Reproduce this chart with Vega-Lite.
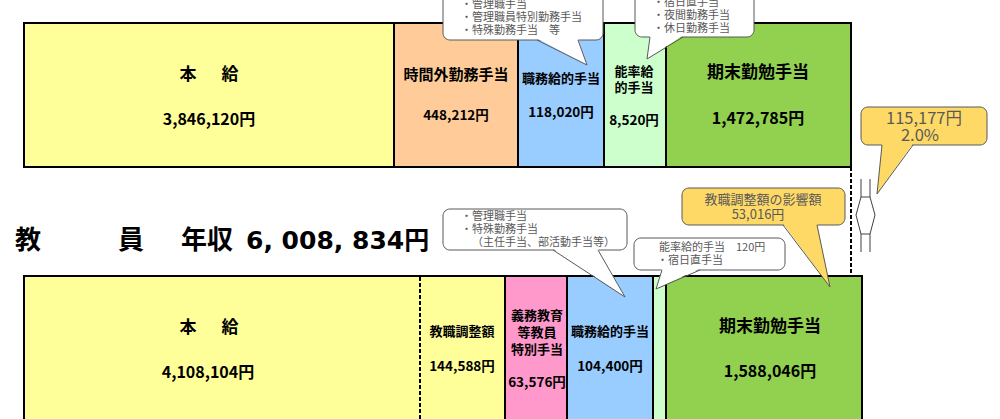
{
  "$schema": "https://vega.github.io/schema/vega-lite/v6.json",
  "width": 1000,
  "height": 419,
  "padding": 0,
  "autosize": {"type": "none"},
  "background": "white",
  "config": {"view": {"stroke": null}},
  "datasets": {
    "boxes": [
      {"row": "行政職", "item": "本給", "x0": 24, "x1": 394, "y0": 23, "y1": 167},
      {"row": "行政職", "item": "時間外勤務手当", "x0": 394, "x1": 518, "y0": 23, "y1": 167},
      {"row": "行政職", "item": "職務給的手当", "x0": 518, "x1": 604, "y0": 23, "y1": 167},
      {"row": "行政職", "item": "能率給的手当", "x0": 604, "x1": 666, "y0": 23, "y1": 167},
      {"row": "行政職", "item": "期末勤勉手当", "x0": 666, "x1": 851, "y0": 23, "y1": 167},
      {"row": "教員", "item": "本給", "x0": 24, "x1": 505, "y0": 276, "y1": 426},
      {"row": "教員", "item": "義務教育等教員特別手当", "x0": 505, "x1": 567, "y0": 276, "y1": 426},
      {"row": "教員", "item": "職務給的手当", "x0": 567, "x1": 653, "y0": 276, "y1": 426},
      {"row": "教員", "item": "能率給的手当", "x0": 653, "x1": 666, "y0": 276, "y1": 426},
      {"row": "教員", "item": "期末勤勉手当", "x0": 666, "x1": 862, "y0": 276, "y1": 426}
    ],
    "labels": [
      {"text": "本", "x": 188, "y": 75, "kind": "L"},
      {"text": "給", "x": 230, "y": 75, "kind": "L"},
      {"text": "3,846,120円", "x": 209, "y": 120, "kind": "AL"},
      {"text": "時間外勤務手当", "x": 456, "y": 75, "kind": "M"},
      {"text": "448,212円", "x": 456, "y": 116, "kind": "AS"},
      {"text": "職務給的手当", "x": 561, "y": 79, "kind": "S"},
      {"text": "118,020円", "x": 561, "y": 113, "kind": "AS"},
      {"text": "能率給", "x": 634, "y": 72, "kind": "S"},
      {"text": "的手当", "x": 634, "y": 88, "kind": "S"},
      {"text": "8,520円", "x": 634, "y": 121, "kind": "AS"},
      {"text": "期末勤勉手当", "x": 758, "y": 73, "kind": "L"},
      {"text": "1,472,785円", "x": 758, "y": 119, "kind": "AL"},
      {"text": "本", "x": 188, "y": 328, "kind": "L"},
      {"text": "給", "x": 230, "y": 328, "kind": "L"},
      {"text": "4,108,104円", "x": 208, "y": 373, "kind": "AL"},
      {"text": "教職調整額", "x": 462, "y": 332, "kind": "S"},
      {"text": "144,588円", "x": 462, "y": 367, "kind": "AS"},
      {"text": "義務教育", "x": 537, "y": 316, "kind": "S"},
      {"text": "等教員", "x": 537, "y": 333, "kind": "S"},
      {"text": "特別手当", "x": 537, "y": 350, "kind": "S"},
      {"text": "63,576円", "x": 537, "y": 383, "kind": "AS"},
      {"text": "職務給的手当", "x": 610, "y": 332, "kind": "S"},
      {"text": "104,400円", "x": 610, "y": 367, "kind": "AS"},
      {"text": "期末勤勉手当", "x": 770, "y": 327, "kind": "L"},
      {"text": "1,588,046円", "x": 770, "y": 372, "kind": "AL"}
    ],
    "callouts": [
      {"id": "c1", "kind": "note", "x0": 443, "x1": 603, "y0": -10, "y1": 40},
      {"id": "c2", "kind": "note", "x0": 635, "x1": 754, "y0": -10, "y1": 37},
      {"id": "c3", "kind": "note", "x0": 443, "x1": 627, "y0": 209, "y1": 250},
      {"id": "c4", "kind": "note", "x0": 634, "x1": 785, "y0": 238, "y1": 270},
      {"id": "c5", "kind": "gap", "x0": 682, "x1": 845, "y0": 188, "y1": 225},
      {"id": "c6", "kind": "gap", "x0": 861, "x1": 987, "y0": 107, "y1": 145}
    ],
    "tailfill": [
      {"id": "c1", "kind": "note", "y": 38.5, "xa": 537, "xb": 578},
      {"id": "c1", "kind": "note", "y": 65, "xa": 587, "xb": 587},
      {"id": "c2", "kind": "note", "y": 35.5, "xa": 650, "xb": 683},
      {"id": "c2", "kind": "note", "y": 59, "xa": 647, "xb": 647},
      {"id": "c3", "kind": "note", "y": 248.5, "xa": 553, "xb": 598},
      {"id": "c3", "kind": "note", "y": 297, "xa": 625, "xb": 625},
      {"id": "c4", "kind": "note", "y": 268.5, "xa": 662, "xb": 700},
      {"id": "c4", "kind": "note", "y": 289, "xa": 656, "xb": 656},
      {"id": "c5", "kind": "gap", "y": 223.5, "xa": 783, "xb": 817},
      {"id": "c5", "kind": "gap", "y": 287, "xa": 830, "xb": 830},
      {"id": "c6", "kind": "gap", "y": 143.5, "xa": 882, "xb": 913},
      {"id": "c6", "kind": "gap", "y": 194, "xa": 877, "xb": 877}
    ],
    "tailline": [
      {"id": "c1", "seq": 0, "x": 537, "y": 40}, {"id": "c1", "seq": 1, "x": 587, "y": 65}, {"id": "c1", "seq": 2, "x": 578, "y": 40},
      {"id": "c2", "seq": 0, "x": 650, "y": 37}, {"id": "c2", "seq": 1, "x": 647, "y": 59}, {"id": "c2", "seq": 2, "x": 683, "y": 37},
      {"id": "c3", "seq": 0, "x": 553, "y": 250}, {"id": "c3", "seq": 1, "x": 625, "y": 297}, {"id": "c3", "seq": 2, "x": 598, "y": 250},
      {"id": "c4", "seq": 0, "x": 662, "y": 270}, {"id": "c4", "seq": 1, "x": 656, "y": 289}, {"id": "c4", "seq": 2, "x": 700, "y": 270},
      {"id": "c5", "seq": 0, "x": 783, "y": 225}, {"id": "c5", "seq": 1, "x": 830, "y": 287}, {"id": "c5", "seq": 2, "x": 817, "y": 225},
      {"id": "c6", "seq": 0, "x": 882, "y": 145}, {"id": "c6", "seq": 1, "x": 877, "y": 194}, {"id": "c6", "seq": 2, "x": 913, "y": 145}
    ],
    "arrow": [
      {"id": "hex", "seq": 0, "x": 861, "y": 197}, {"id": "hex", "seq": 1, "x": 870, "y": 197}, {"id": "hex", "seq": 2, "x": 875, "y": 215},
      {"id": "hex", "seq": 3, "x": 870, "y": 234}, {"id": "hex", "seq": 4, "x": 861, "y": 234}, {"id": "hex", "seq": 5, "x": 856, "y": 215},
      {"id": "hex", "seq": 6, "x": 861, "y": 197},
      {"id": "tl", "seq": 0, "x": 861, "y": 179}, {"id": "tl", "seq": 1, "x": 861, "y": 197},
      {"id": "tr", "seq": 0, "x": 870, "y": 179}, {"id": "tr", "seq": 1, "x": 870, "y": 197},
      {"id": "bl", "seq": 0, "x": 861, "y": 234}, {"id": "bl", "seq": 1, "x": 861, "y": 252},
      {"id": "br", "seq": 0, "x": 870, "y": 234}, {"id": "br", "seq": 1, "x": 870, "y": 252}
    ],
    "dividers": [
      {"id": "gap", "x": 851, "y0": 167, "y1": 276},
      {"id": "kyoshoku", "x": 420, "y0": 277, "y1": 426}
    ],
    "notes": [
      {"text": "・管理職手当", "x": 461, "y": 5},
      {"text": "・管理職員特別勤務手当", "x": 461, "y": 18},
      {"text": "・特殊勤務手当　等", "x": 461, "y": 31},
      {"text": "・宿日直手当", "x": 653, "y": 3},
      {"text": "・夜間勤務手当", "x": 653, "y": 16},
      {"text": "・休日勤務手当", "x": 653, "y": 29},
      {"text": "・管理職手当", "x": 461, "y": 217},
      {"text": "・特殊勤務手当", "x": 461, "y": 230},
      {"text": "（主任手当、部活動手当等）", "x": 472, "y": 243},
      {"text": "能率給的手当　120円", "x": 659, "y": 248},
      {"text": "・宿日直手当", "x": 657, "y": 261}
    ],
    "gaptext": [
      {"text": "教職調整額の影響額", "x": 763, "y": 200, "kind": "a"},
      {"text": "53,016円", "x": 758, "y": 215, "kind": "a"},
      {"text": "115,177円", "x": 924, "y": 119, "kind": "b"},
      {"text": "2.0%", "x": 920, "y": 136, "kind": "b"}
    ],
    "title": [
      {"text": "教", "x": 15, "y": 241, "part": "jp"},
      {"text": "員", "x": 118, "y": 241, "part": "jp"},
      {"text": "年収", "x": 181, "y": 241, "part": "jp"},
      {"text": "6, 008, 834円", "x": 246, "y": 241, "part": "num"}
    ]
  },
  "layer": [
    {
      "data": {"name": "boxes"},
      "mark": {"type": "rect", "stroke": "#000000", "strokeWidth": 2, "clip": true},
      "encoding": {
        "x": {"field": "x0", "type": "quantitative", "scale": {"domain": [0, 1000], "nice": false, "zero": false}, "axis": null},
        "x2": {"field": "x1"},
        "y": {"field": "y0", "type": "quantitative", "scale": {"domain": [0, 419], "nice": false, "zero": false, "reverse": true}, "axis": null},
        "y2": {"field": "y1"},
        "fill": {"field": "item", "type": "nominal", "legend": null,
          "scale": {"domain": ["本給", "時間外勤務手当", "職務給的手当", "能率給的手当", "期末勤勉手当", "義務教育等教員特別手当"],
                    "range": ["#FFFF99", "#FFCC99", "#99CCFF", "#CCFFCC", "#92D050", "#FF99CC"]}}
      }
    },
    {
      "data": {"name": "dividers"},
      "mark": {"type": "rule", "stroke": "#000000", "strokeWidth": 2, "strokeDash": [4, 2], "clip": true},
      "encoding": {
        "x": {"field": "x", "type": "quantitative", "scale": {"domain": [0, 1000], "nice": false, "zero": false}, "axis": null},
        "y": {"field": "y0", "type": "quantitative", "scale": {"domain": [0, 419], "nice": false, "zero": false, "reverse": true}, "axis": null},
        "y2": {"field": "y1"}
      }
    },
    {
      "data": {"name": "labels"},
      "transform": [{"filter": "datum.kind === 'L'"}],
      "mark": {"type": "text", "font": "Noto Sans CJK JP", "fontWeight": "bold", "fontSize": 17, "fill": "#000000", "align": "center", "baseline": "middle"},
      "encoding": {
        "x": {"field": "x", "type": "quantitative", "scale": {"domain": [0, 1000], "nice": false, "zero": false}, "axis": null},
        "y": {"field": "y", "type": "quantitative", "scale": {"domain": [0, 419], "nice": false, "zero": false, "reverse": true}, "axis": null},
        "text": {"field": "text"}
      }
    },
    {
      "data": {"name": "labels"},
      "transform": [{"filter": "datum.kind === 'M'"}],
      "mark": {"type": "text", "font": "Noto Sans CJK JP", "fontWeight": "bold", "fontSize": 15, "fill": "#000000", "align": "center", "baseline": "middle"},
      "encoding": {
        "x": {"field": "x", "type": "quantitative", "scale": {"domain": [0, 1000], "nice": false, "zero": false}, "axis": null},
        "y": {"field": "y", "type": "quantitative", "scale": {"domain": [0, 419], "nice": false, "zero": false, "reverse": true}, "axis": null},
        "text": {"field": "text"}
      }
    },
    {
      "data": {"name": "labels"},
      "transform": [{"filter": "datum.kind === 'S'"}],
      "mark": {"type": "text", "font": "Noto Sans CJK JP", "fontWeight": "bold", "fontSize": 13, "fill": "#000000", "align": "center", "baseline": "middle"},
      "encoding": {
        "x": {"field": "x", "type": "quantitative", "scale": {"domain": [0, 1000], "nice": false, "zero": false}, "axis": null},
        "y": {"field": "y", "type": "quantitative", "scale": {"domain": [0, 419], "nice": false, "zero": false, "reverse": true}, "axis": null},
        "text": {"field": "text"}
      }
    },
    {
      "data": {"name": "labels"},
      "transform": [{"filter": "datum.kind === 'AL'"}],
      "mark": {"type": "text", "font": "Noto Sans CJK JP", "fontWeight": "bold", "fontSize": 16, "fill": "#000000", "align": "center", "baseline": "middle"},
      "encoding": {
        "x": {"field": "x", "type": "quantitative", "scale": {"domain": [0, 1000], "nice": false, "zero": false}, "axis": null},
        "y": {"field": "y", "type": "quantitative", "scale": {"domain": [0, 419], "nice": false, "zero": false, "reverse": true}, "axis": null},
        "text": {"field": "text"}
      }
    },
    {
      "data": {"name": "labels"},
      "transform": [{"filter": "datum.kind === 'AS'"}],
      "mark": {"type": "text", "font": "Noto Sans CJK JP", "fontWeight": "bold", "fontSize": 13.5, "fill": "#000000", "align": "center", "baseline": "middle"},
      "encoding": {
        "x": {"field": "x", "type": "quantitative", "scale": {"domain": [0, 1000], "nice": false, "zero": false}, "axis": null},
        "y": {"field": "y", "type": "quantitative", "scale": {"domain": [0, 419], "nice": false, "zero": false, "reverse": true}, "axis": null},
        "text": {"field": "text"}
      }
    },
    {
      "data": {"name": "callouts"},
      "mark": {"type": "rect", "stroke": "#595959", "strokeWidth": 1, "cornerRadius": 7, "clip": true},
      "encoding": {
        "x": {"field": "x0", "type": "quantitative", "scale": {"domain": [0, 1000], "nice": false, "zero": false}, "axis": null},
        "x2": {"field": "x1"},
        "y": {"field": "y0", "type": "quantitative", "scale": {"domain": [0, 419], "nice": false, "zero": false, "reverse": true}, "axis": null},
        "y2": {"field": "y1"},
        "fill": {"field": "kind", "type": "nominal", "legend": null,
          "scale": {"domain": ["note", "gap"], "range": ["#FFFFFF", "#FFD966"]}}
      }
    },
    {
      "data": {"name": "tailfill"},
      "mark": {"type": "area", "orient": "horizontal", "opacity": 1, "clip": true},
      "encoding": {
        "y": {"field": "y", "type": "quantitative", "scale": {"domain": [0, 419], "nice": false, "zero": false, "reverse": true}, "axis": null},
        "x": {"field": "xa", "type": "quantitative", "scale": {"domain": [0, 1000], "nice": false, "zero": false}, "axis": null},
        "x2": {"field": "xb"},
        "detail": {"field": "id"},
        "fill": {"field": "kind", "type": "nominal", "legend": null,
          "scale": {"domain": ["note", "gap"], "range": ["#FFFFFF", "#FFD966"]}}
      }
    },
    {
      "data": {"name": "tailline"},
      "mark": {"type": "line", "stroke": "#595959", "strokeWidth": 1, "clip": true},
      "encoding": {
        "x": {"field": "x", "type": "quantitative", "scale": {"domain": [0, 1000], "nice": false, "zero": false}, "axis": null},
        "y": {"field": "y", "type": "quantitative", "scale": {"domain": [0, 419], "nice": false, "zero": false, "reverse": true}, "axis": null},
        "detail": {"field": "id"},
        "order": {"field": "seq", "type": "quantitative"}
      }
    },
    {
      "data": {"name": "arrow"},
      "mark": {"type": "line", "stroke": "#404040", "strokeWidth": 1, "clip": true},
      "encoding": {
        "x": {"field": "x", "type": "quantitative", "scale": {"domain": [0, 1000], "nice": false, "zero": false}, "axis": null},
        "y": {"field": "y", "type": "quantitative", "scale": {"domain": [0, 419], "nice": false, "zero": false, "reverse": true}, "axis": null},
        "detail": {"field": "id"},
        "order": {"field": "seq", "type": "quantitative"}
      }
    },
    {
      "data": {"name": "notes"},
      "mark": {"type": "text", "font": "Noto Sans CJK JP", "fontSize": 11, "fill": "#595959", "align": "left", "baseline": "middle", "clip": true},
      "encoding": {
        "x": {"field": "x", "type": "quantitative", "scale": {"domain": [0, 1000], "nice": false, "zero": false}, "axis": null},
        "y": {"field": "y", "type": "quantitative", "scale": {"domain": [0, 419], "nice": false, "zero": false, "reverse": true}, "axis": null},
        "text": {"field": "text"}
      }
    },
    {
      "data": {"name": "gaptext"},
      "transform": [{"filter": "datum.kind === 'a'"}],
      "mark": {"type": "text", "font": "Noto Sans CJK JP", "fontSize": 13, "fill": "#595959", "align": "center", "baseline": "middle"},
      "encoding": {
        "x": {"field": "x", "type": "quantitative", "scale": {"domain": [0, 1000], "nice": false, "zero": false}, "axis": null},
        "y": {"field": "y", "type": "quantitative", "scale": {"domain": [0, 419], "nice": false, "zero": false, "reverse": true}, "axis": null},
        "text": {"field": "text"}
      }
    },
    {
      "data": {"name": "gaptext"},
      "transform": [{"filter": "datum.kind === 'b'"}],
      "mark": {"type": "text", "font": "Noto Sans CJK JP", "fontSize": 16.5, "fill": "#595959", "align": "center", "baseline": "middle"},
      "encoding": {
        "x": {"field": "x", "type": "quantitative", "scale": {"domain": [0, 1000], "nice": false, "zero": false}, "axis": null},
        "y": {"field": "y", "type": "quantitative", "scale": {"domain": [0, 419], "nice": false, "zero": false, "reverse": true}, "axis": null},
        "text": {"field": "text"}
      }
    },
    {
      "data": {"name": "title"},
      "transform": [{"filter": "datum.part === 'jp'"}],
      "mark": {"type": "text", "font": "Noto Sans CJK JP", "fontWeight": "bold", "fontSize": 26, "fill": "#000000", "align": "left", "baseline": "middle"},
      "encoding": {
        "x": {"field": "x", "type": "quantitative", "scale": {"domain": [0, 1000], "nice": false, "zero": false}, "axis": null},
        "y": {"field": "y", "type": "quantitative", "scale": {"domain": [0, 419], "nice": false, "zero": false, "reverse": true}, "axis": null},
        "text": {"field": "text"}
      }
    },
    {
      "data": {"name": "title"},
      "transform": [{"filter": "datum.part === 'num'"}],
      "mark": {"type": "text", "font": "DejaVu Sans, Noto Sans CJK JP", "fontWeight": "bold", "fontSize": 25, "fill": "#000000", "align": "left", "baseline": "middle"},
      "encoding": {
        "x": {"field": "x", "type": "quantitative", "scale": {"domain": [0, 1000], "nice": false, "zero": false}, "axis": null},
        "y": {"field": "y", "type": "quantitative", "scale": {"domain": [0, 419], "nice": false, "zero": false, "reverse": true}, "axis": null},
        "text": {"field": "text"}
      }
    }
  ],
  "resolve": {"scale": {"fill": "independent"}}
}
